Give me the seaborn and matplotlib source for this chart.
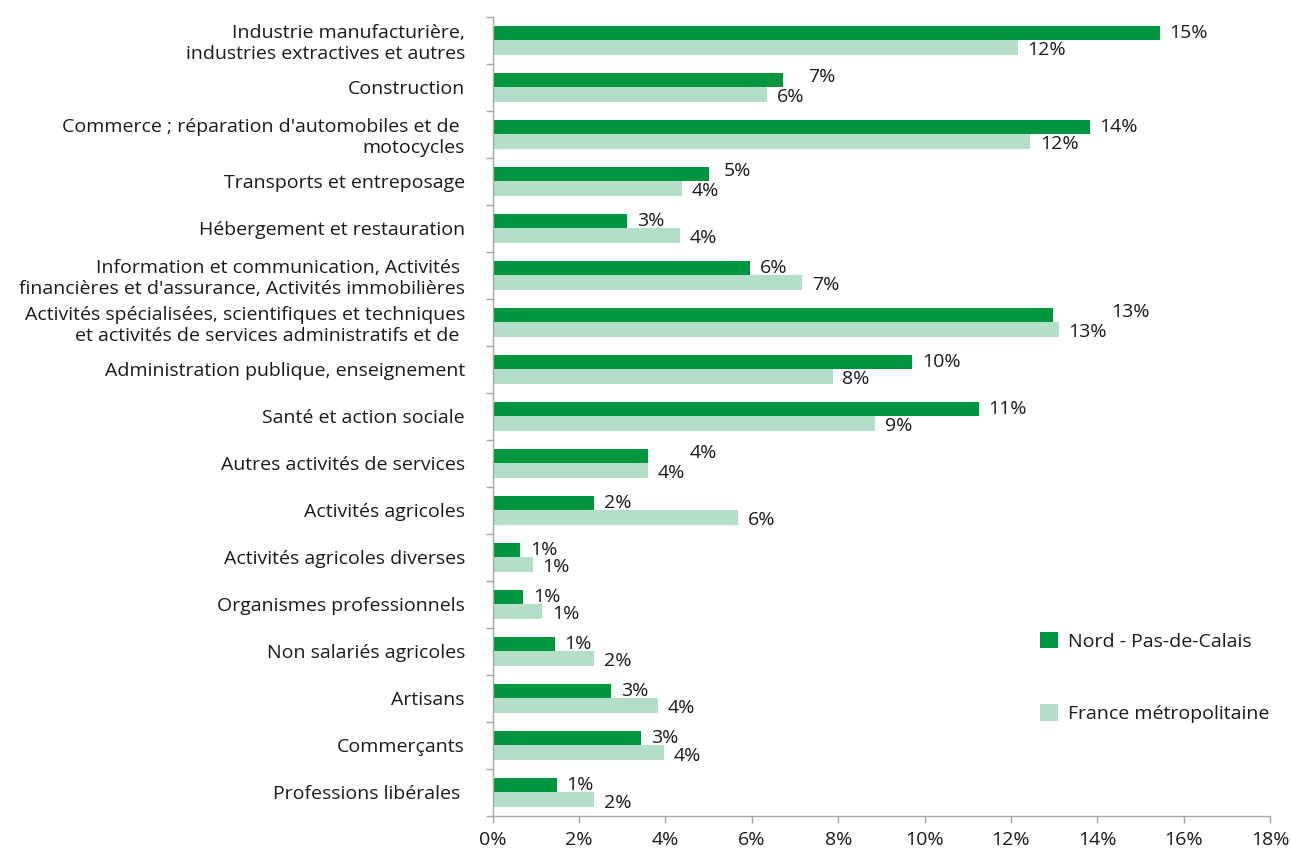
import pandas as pd
import matplotlib.pyplot as plt
import seaborn as sns

# categories (top to bottom)
categories = [
    "Industrie manufacturière,\nindustries extractives et autres",
    "Construction",
    "Commerce ; réparation d'automobiles et de \nmotocycles",
    "Transports et entreposage",
    "Hébergement et restauration",
    "Information et communication, Activités \nfinancières et d'assurance, Activités immobilières",
    "Activités spécialisées, scientifiques et techniques\net activités de services administratifs et de ",
    "Administration publique, enseignement",
    "Santé et action sociale",
    "Autres activités de services",
    "Activités agricoles",
    "Activités agricoles diverses",
    "Organismes professionnels",
    "Non salariés agricoles",
    "Artisans",
    "Commerçants",
    "Professions libérales ",
]

# shares in %
nord_pdc = [15.45, 6.73, 13.83, 5.01, 3.11, 5.96, 12.97, 9.72, 11.25, 3.60,
            2.34, 0.63, 0.70, 1.44, 2.74, 3.43, 1.48]
france_metro = [12.16, 6.36, 12.45, 4.39, 4.34, 7.17, 13.11, 7.87, 8.86, 3.60,
                5.68, 0.93, 1.14, 2.34, 3.83, 3.97, 2.34]

series_names = ["Nord - Pas-de-Calais", "France métropolitaine"]
colors = ["#009640", "#B3DFC8"]

df = pd.DataFrame({
    "secteur": categories * 2,
    "serie": [series_names[0]] * len(categories) + [series_names[1]] * len(categories),
    "part": nord_pdc + france_metro,
})

sns.set_style("white")
plt.rcParams["font.family"] = ["Open Sans", "DejaVu Sans"]
text_color = "#1a1a1a"
axis_color = "#A6A6A6"
fs = 14

fig = plt.figure(figsize=(12.91, 8.52), dpi=100)
ax = fig.add_axes([0.3817, 0.0423, 0.602, 0.938])

sns.barplot(data=df, y="secteur", x="part", hue="serie", orient="h",
            palette=colors, width=0.62, saturation=1, linewidth=0, ax=ax)

ax.set_xlim(0, 18)
ax.set_ylim(len(categories) - 0.5, -0.5)

# data labels next to the bar ends
dark_bars, light_bars = ax.containers[0], ax.containers[1]
dark_txt, light_txt = [], []
for bar in dark_bars:
    w = bar.get_width()
    yc = bar.get_y() + bar.get_height() / 2
    dark_txt.append(ax.annotate(f"{w:.0f}%", (w, yc), xytext=(7, 0), textcoords="offset points",
                                va="center", ha="left", fontsize=fs, color=text_color))
for bar in light_bars:
    w = bar.get_width()
    yc = bar.get_y() + bar.get_height() / 2
    light_txt.append(ax.annotate(f"{w:.0f}%", (w, yc), xytext=(7, -2), textcoords="offset points",
                                 va="center", ha="left", fontsize=fs, color=text_color))

# when both bars end at about the same place, push the dark label past the light one
fig.canvas.draw()
renderer = fig.canvas.get_renderer()
for d, l, dv, lv in zip(dark_txt, light_txt, nord_pdc, france_metro):
    bd = d.get_window_extent(renderer)
    bl = l.get_window_extent(renderer)
    if bd.x0 < bl.x1 and bl.x0 < bd.x1 and dv >= lv - 0.2:
        shift_px = bl.x1 - bd.x0 + 4
        d.xyann = (d.xyann[0] + shift_px * 72 / fig.dpi, 2)

ax.set_xticks(range(0, 19, 2))
ax.set_xticklabels([f"{t}%" for t in range(0, 19, 2)])
ax.set_xlabel("")
ax.set_ylabel("")

# ticks between categories on y
ax.set_yticks([i - 0.5 for i in range(len(categories) + 1)], minor=True)
ax.tick_params(axis="y", which="major", length=0, pad=20, labelsize=fs, labelcolor=text_color)
ax.tick_params(axis="y", which="minor", left=True, length=5, color=axis_color, width=1)
ax.tick_params(axis="x", which="major", bottom=True, length=5, color=axis_color, width=1,
               labelsize=fs, labelcolor=text_color, pad=6)

sns.despine(ax=ax, top=True, right=True)
for side in ["left", "bottom"]:
    ax.spines[side].set_color(axis_color)
    ax.spines[side].set_linewidth(1)

handles, labels = ax.get_legend_handles_labels()
ax.legend(handles, labels, loc="upper left", bbox_to_anchor=(1030 / 1291, 1 - 622 / 852),
          bbox_transform=fig.transFigure, frameon=False, fontsize=fs,
          handlelength=0.95, handleheight=0.95, handletextpad=0.5,
          labelspacing=2.75, borderpad=0, labelcolor=text_color)

fig.savefig("out.png", dpi=100)
